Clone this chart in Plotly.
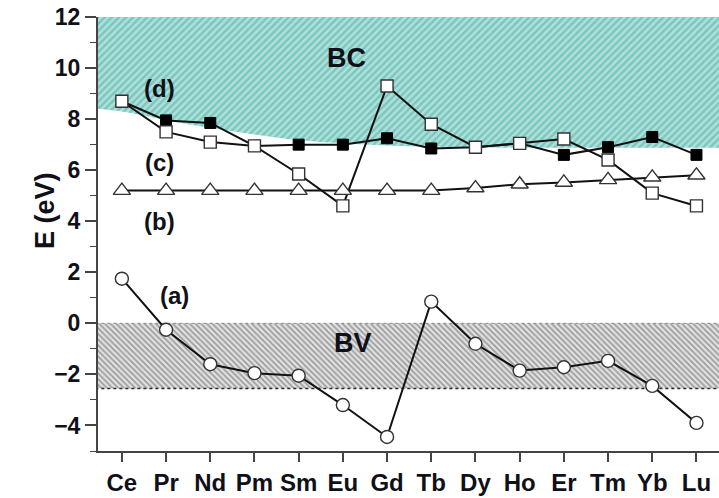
import plotly.graph_objects as go

# Lanthanide series on the x axis
elements = ["Ce", "Pr", "Nd", "Pm", "Sm", "Eu", "Gd", "Tb", "Dy", "Ho", "Er", "Tm", "Yb", "Lu"]

# Level energies (eV) for each series
series_a = [1.75, -0.25, -1.6, -1.95, -2.05, -3.2, -4.45, 0.85, -0.8, -1.85, -1.72, -1.47, -2.45, -3.9]
series_b = [5.2, 5.2, 5.2, 5.2, 5.2, 5.2, 5.2, 5.2, 5.3, 5.45, 5.52, 5.62, 5.72, 5.8]
series_c = [8.7, 7.5, 7.1, 6.95, 5.85, 4.6, 9.3, 7.8, 6.9, 7.05, 7.22, 6.4, 5.1, 4.6]
series_d = [8.7, 7.95, 7.85, 6.95, 7.0, 7.0, 7.25, 6.85, 6.9, 7.05, 6.6, 6.9, 7.3, 6.6]

# Conduction band (BC) lower edge and valence band (BV) limits
bc_edge_x = [-0.6, 0, 1, 2, 3, 4, 5, 6, 7, 8, 9, 10, 11, 12, 13, 13.6]
bc_edge_y = [8.42, 8.3, 7.97, 7.65, 7.4, 7.18, 7.05, 6.97, 6.92, 6.9, 6.88, 6.88, 6.88, 6.88, 6.88, 6.88]
bc_top = 12
bv_top = 0
bv_bottom = -2.55

x_edges = [-0.6, 13.6]
xpos = list(range(len(elements)))

FONT = "Liberation Sans, Arial, sans-serif"
INK = "#101018"

fig = go.Figure()

# BC hatched band
fig.add_trace(go.Scatter(x=x_edges, y=[bc_top, bc_top], mode="lines",
                         line=dict(width=0), hoverinfo="skip", showlegend=False))
fig.add_trace(go.Scatter(x=bc_edge_x, y=bc_edge_y, mode="lines", line_shape="spline",
                         line=dict(width=0), fill="tonexty",
                         fillcolor="#b0e0da",
                         fillpattern=dict(shape="/", fgcolor="#46aea4", bgcolor="#b0e0da",
                                          size=5, solidity=0.5),
                         hoverinfo="skip", showlegend=False))

# BV hatched band
fig.add_trace(go.Scatter(x=x_edges, y=[bv_top, bv_top], mode="lines",
                         line=dict(width=1, color="#8a8a8a", dash="dot"),
                         hoverinfo="skip", showlegend=False))
fig.add_trace(go.Scatter(x=x_edges, y=[bv_bottom, bv_bottom], mode="lines",
                         line=dict(width=1.6, color="#2a2a2a", dash="dot"), fill="tonexty",
                         fillcolor="#cfcfcf",
                         fillpattern=dict(shape="\\", fgcolor="#555555", bgcolor="#e2e2e2",
                                          size=4, solidity=0.45),
                         hoverinfo="skip", showlegend=False))

line_style = dict(color="#111111", width=2)

fig.add_trace(go.Scatter(x=xpos, y=series_d, mode="lines+markers", line=line_style,
                         marker=dict(symbol="square", size=11, color="#000000",
                                     line=dict(color="#000000", width=1)),
                         showlegend=False))
fig.add_trace(go.Scatter(x=xpos, y=series_c, mode="lines+markers", line=line_style,
                         marker=dict(symbol="square", size=12, color="#ffffff",
                                     line=dict(color="#333333", width=1.4)),
                         showlegend=False))
fig.add_trace(go.Scatter(x=xpos, y=series_b, mode="lines+markers", line=line_style,
                         marker=dict(symbol="triangle-up", size=15, color="#ffffff",
                                     line=dict(color="#333333", width=1.4)),
                         showlegend=False))
fig.add_trace(go.Scatter(x=xpos, y=series_a, mode="lines+markers", line=line_style,
                         marker=dict(symbol="circle", size=13, color="#ffffff",
                                     line=dict(color="#333333", width=1.4)),
                         showlegend=False))

labels = [("BC", 5.08, 10.4, 27), ("BV", 5.22, -0.75, 27), ("(d)", 0.86, 9.2, 24),
          ("(c)", 0.84, 6.3, 24), ("(b)", 0.84, 4.0, 24), ("(a)", 1.18, 1.1, 24)]
for text, lx, ly, fs in labels:
    fig.add_annotation(x=lx, y=ly, text=f"<b>{text}</b>", showarrow=False,
                       font=dict(family=FONT, size=fs, color=INK))

# Axis title placed beside the y axis
fig.add_annotation(xref="paper", yref="paper", x=-0.113, y=0.555, text="<b>E (eV)</b>",
                   textangle=-90, showarrow=False,
                   font=dict(family=FONT, size=27, color=INK))

fig.update_layout(
    width=719, height=498,
    margin=dict(l=98, r=0, t=17, b=47),
    paper_bgcolor="white", plot_bgcolor="white",
    font=dict(family=FONT, color=INK),
    xaxis=dict(range=[-0.54, 13.51], tickvals=xpos,
               ticktext=[f"<b>{e}</b>" for e in elements],
               showgrid=False, zeroline=False, showline=True, linecolor="#444444", linewidth=2,
               ticks="outside", ticklen=9, tickwidth=1.5, tickcolor="#444444",
               tickfont=dict(family=FONT, size=24, color=INK)),
    yaxis=dict(range=[-5, 12], tickvals=list(range(-4, 13, 2)),
               ticktext=[f"<b>{v}</b>".replace("-", "\u2212") for v in range(-4, 13, 2)],
               showgrid=False, zeroline=False, showline=True, linecolor="#444444", linewidth=2,
               ticks="outside", ticklen=11, tickwidth=1.5, tickcolor="#444444",
               minor=dict(dtick=1, ticks="outside", ticklen=6, tickwidth=1.2, tickcolor="#444444"),
               tickfont=dict(family=FONT, size=23, color=INK)),
)

fig.write_html("out.html")
